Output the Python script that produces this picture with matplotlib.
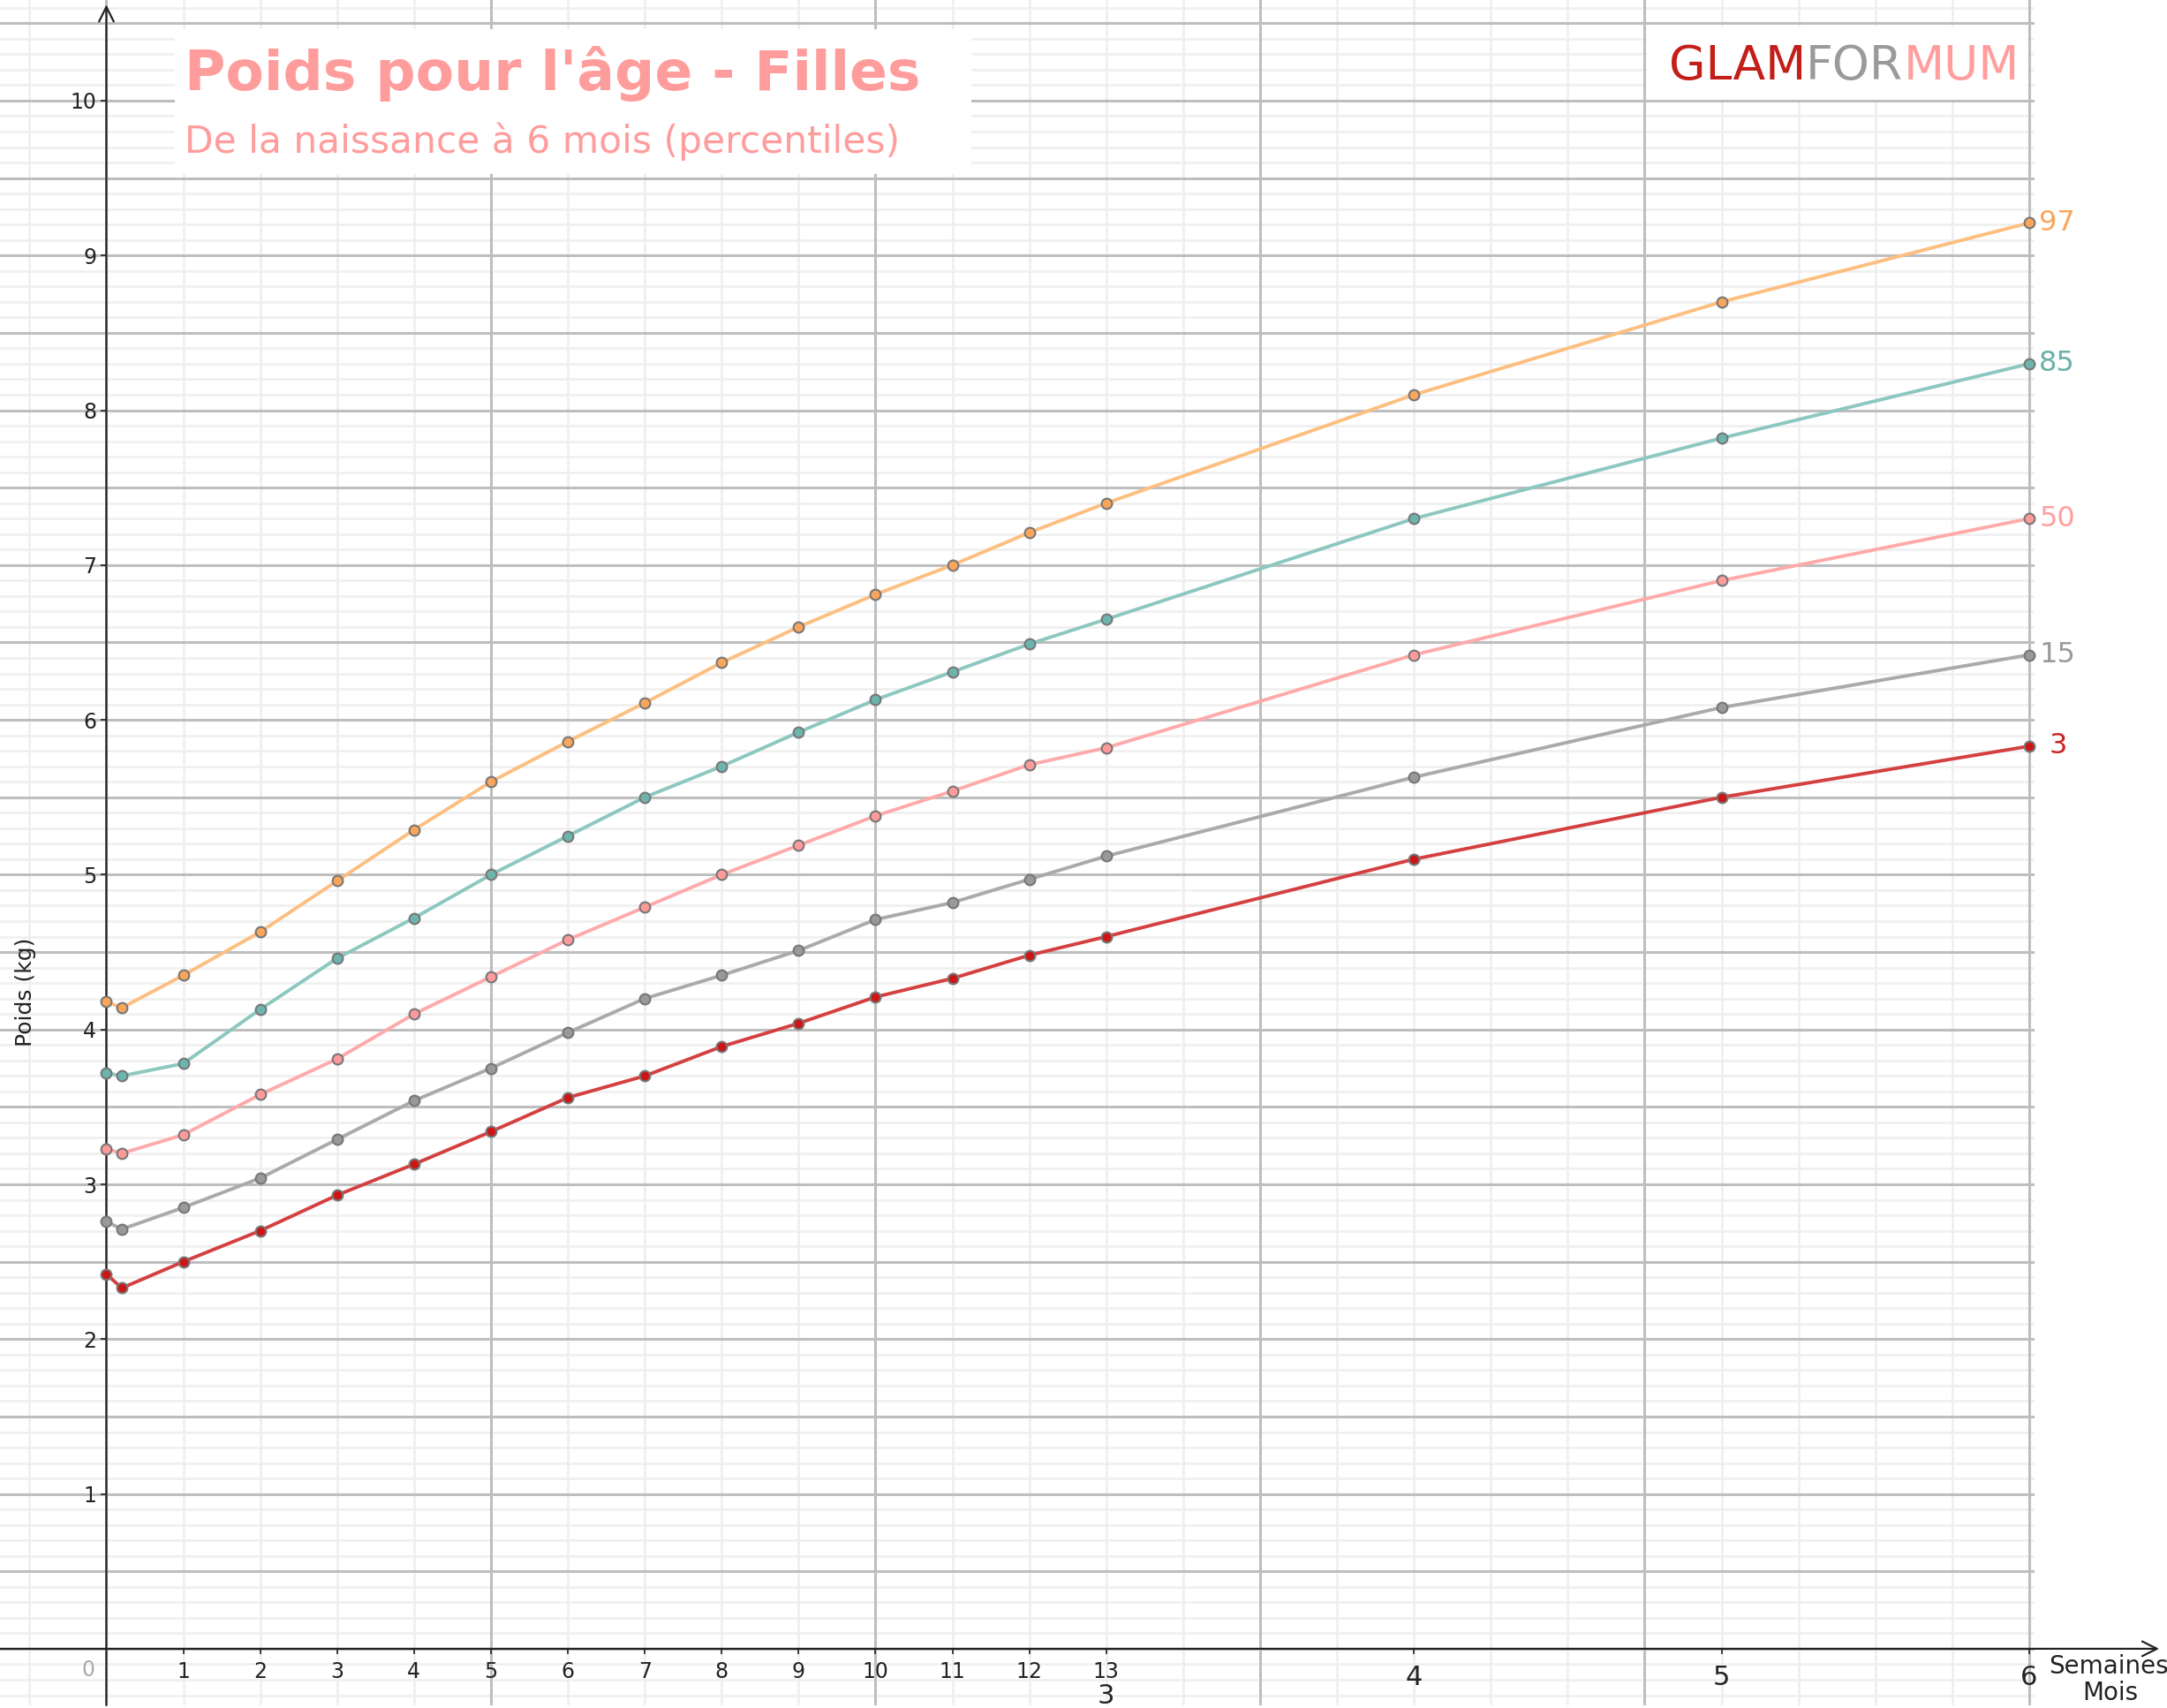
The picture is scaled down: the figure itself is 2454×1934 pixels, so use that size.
import matplotlib
matplotlib.use("Agg")
import matplotlib.pyplot as plt
from matplotlib.patches import Rectangle
import numpy as np

# Age in weeks (birth, ~1.5 days, weeks 1-13, then months 4, 5, 6)
age_weeks = [0, 0.2, 1, 2, 3, 4, 5, 6, 7, 8, 9, 10, 11, 12, 13, 17, 21, 25]

# Weight percentiles (kg)
p97 = [4.18, 4.14, 4.35, 4.63, 4.96, 5.29, 5.60, 5.86, 6.11, 6.37, 6.60, 6.81, 7.00, 7.21, 7.40, 8.10, 8.70, 9.21]
p85 = [3.72, 3.70, 3.78, 4.13, 4.46, 4.72, 5.00, 5.25, 5.50, 5.70, 5.92, 6.13, 6.31, 6.49, 6.65, 7.30, 7.82, 8.30]
p50 = [3.23, 3.20, 3.32, 3.58, 3.81, 4.10, 4.34, 4.58, 4.79, 5.00, 5.19, 5.38, 5.54, 5.71, 5.82, 6.42, 6.90, 7.30]
p15 = [2.76, 2.71, 2.85, 3.04, 3.29, 3.54, 3.75, 3.98, 4.20, 4.35, 4.51, 4.71, 4.82, 4.97, 5.12, 5.63, 6.08, 6.42]
p3 = [2.42, 2.33, 2.50, 2.70, 2.93, 3.13, 3.34, 3.56, 3.70, 3.89, 4.04, 4.21, 4.33, 4.48, 4.60, 5.10, 5.50, 5.83]

percentile_names = ["97", "85", "50", "15", "3"]
percentile_values = [p97, p85, p50, p15, p3]
line_colors = ["#FDBF80", "#8CC7C0", "#FFAAAA", "#AAAAAA", "#D44040"]
marker_colors = ["#F9A55A", "#6CB5AE", "#FF9A9A", "#999999", "#CC1515"]
label_colors = ["#F7A65C", "#6AAFA9", "#FF9E9E", "#9A9A9A", "#CC2222"]

week_ticks = list(range(1, 14))
month_ticks = [17, 21, 25]
month_labels = ["4", "5", "6"]

W, H = 2454, 1934
fig = plt.figure(figsize=(W / 100, H / 100), dpi=100)
ax = fig.add_axes([0, 0.0016, 2304 / W, 1 - 0.0016])
ax.set_xlim(-1.383, 25.07)
ax.set_ylim(-0.365, 10.65)

# grid
for w in range(-1, 26):
    if w % 5 == 0:
        ax.axvline(w, color="#BEBEBE", lw=2.2, zorder=0.5)
    else:
        ax.axvline(w, color="#EEEEEE", lw=1.8, zorder=0.2)
for k in np.arange(-3, 107):
    y = k / 10
    if k % 5 == 0:
        ax.axhline(y, color="#BEBEBE", lw=2.2, zorder=0.5)
    else:
        ax.axhline(y, color="#EFEFEF", lw=1.8, zorder=0.2)

# axes lines with arrows
for s in ax.spines.values():
    s.set_visible(False)
ax.spines["left"].set_position(("data", 0))
ax.spines["bottom"].set_position(("data", 0))
ax.annotate("", xy=(26.69, 0), xytext=(-1.383, 0),
            arrowprops=dict(arrowstyle="->", lw=1.6, color="#222222",
                            mutation_scale=30, shrinkA=0, shrinkB=0),
            annotation_clip=False, zorder=3)
ax.annotate("", xy=(0, 10.62), xytext=(0, -0.365),
            arrowprops=dict(arrowstyle="->", lw=1.6, color="#222222",
                            mutation_scale=30, shrinkA=0, shrinkB=0),
            annotation_clip=False, zorder=3)

# curves
for name, vals, lc, mc, tc in zip(percentile_names, percentile_values,
                                  line_colors, marker_colors, label_colors):
    ax.plot(age_weeks, vals, color=lc, lw=2.8, zorder=4, clip_on=False)
    ax.plot(age_weeks, vals, ls="none", marker="o", ms=8.5, mfc=mc,
            mec="#777777", mew=1.5, zorder=5, clip_on=False)
    off = 16 if len(name) == 1 else 8
    ax.annotate(name, xy=(age_weeks[-1], vals[-1]), xytext=(off, 0),
                textcoords="offset points", va="center", ha="left",
                color=tc, fontsize=23, annotation_clip=False)

# ticks
ax.set_xticks(week_ticks + month_ticks)
ax.set_xticklabels([str(w) for w in week_ticks] + month_labels)
ax.tick_params(axis="x", direction="out", length=4.5, width=1.2,
               color="#222222", labelsize=17, labelcolor="#222222", pad=5.5)
for t, lab in zip(ax.xaxis.get_major_ticks()[len(week_ticks):], month_labels):
    t.label1.set_fontsize(22)
    t.set_pad(8.5)
ax.set_yticks(range(1, 11))
ax.tick_params(axis="y", direction="out", length=4.5, width=1.2,
               color="#222222", labelsize=17, labelcolor="#222222", pad=3.5)

ax.annotate("0", xy=(0, 0), xytext=(-15, -9), textcoords="offset points",
            ha="center", va="top", fontsize=17, color="#AAAAAA")
ax.annotate("3", xy=(13, 0), xytext=(0, -28), textcoords="offset points",
            ha="center", va="top", fontsize=22, color="#222222")

fig.text(2388 / W, 1 - 1887 / H, "Semaines", ha="center", va="center",
         fontsize=20, color="#222222")
fig.text(2390 / W, 1 - 1917 / H, "Mois", ha="center", va="center",
         fontsize=20, color="#222222")
fig.text(29 / W, 1 - 1123 / H, "Poids (kg)", rotation=90, ha="center",
         va="center", fontsize=18, color="#222222")

# title box
fig.add_artist(Rectangle((198 / W, 1 - 197 / H), (1100 - 198) / W, (197 - 33) / H,
                         transform=fig.transFigure, facecolor="white",
                         edgecolor="none", zorder=1))
fig.text(209 / W, 1 - 102 / H, "Poids pour l'âge - Filles", ha="left",
         va="baseline", fontsize=45.5, fontweight="bold", color="#FF9C9C", zorder=2)
fig.text(209 / W, 1 - 173 / H, "De la naissance à 6 mois (percentiles)",
         ha="left", va="baseline", fontsize=30.5, color="#FF9C9C", zorder=2)

# logo
fig.add_artist(Rectangle((1865 / W, 1 - 113 / H), (2296 - 1865) / W, (113 - 30) / H,
                         transform=fig.transFigure, facecolor="white",
                         edgecolor="none", zorder=1))
fig.canvas.draw()
x = 1890
for part, col in [("GLAM", "#C41E18"), ("FOR", "#9A9A9A"), ("MUM", "#FF9E9E")]:
    t = fig.text(x / W, 1 - 90 / H, part, ha="left", va="baseline",
                 fontsize=38.5, color=col, zorder=2)
    bb = t.get_window_extent(renderer=fig.canvas.get_renderer())
    x = bb.x1

fig.savefig("out.png", dpi=100)
